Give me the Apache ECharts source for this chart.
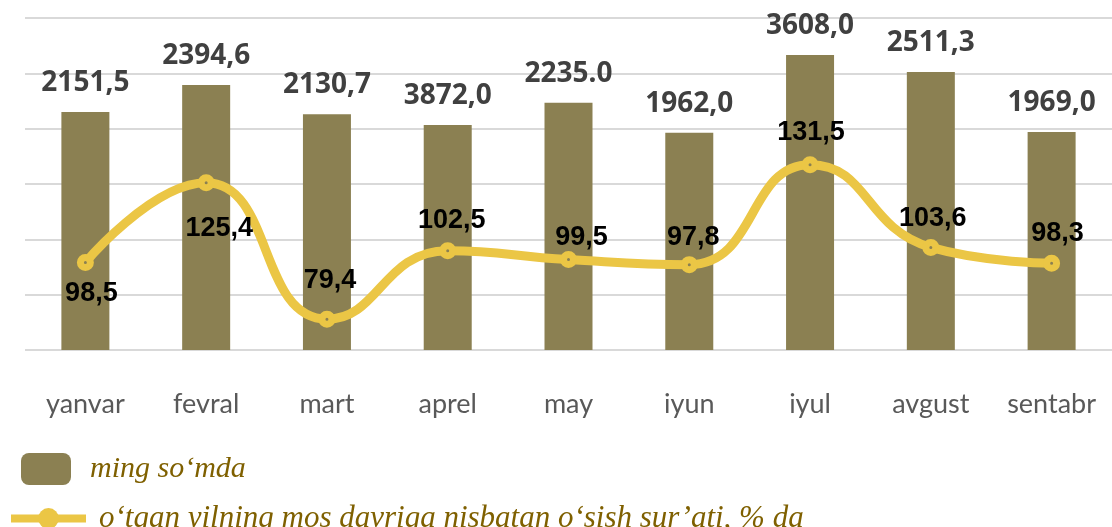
<!DOCTYPE html>
<html>
<head>
<meta charset="utf-8">
<script src="https://cdn.jsdelivr.net/npm/echarts@6/dist/echarts.min.js"></script>
<style>
  html, body { margin: 0; padding: 0; background: #fff; }
  #chart { width: 1112px; height: 527px; }
</style>
</head>
<body>
<div id="chart"></div>
<script>
var months = ['yanvar', 'fevral', 'mart', 'aprel', 'may', 'iyun', 'iyul', 'avgust', 'sentabr'];
// bar heights as drawn in the picture
var sumValues = [2151.5, 2394.6, 2130.7, 2033, 2235.0, 1962.0, 2665, 2511.3, 1969.0];
// labels as printed above the bars
var sumLabels = ['2151,5', '2394,6', '2130,7', '3872,0', '2235.0', '1962,0', '3608,0', '2511,3', '1969,0'];
var growthValues = [98.5, 125.4, 79.4, 102.5, 99.5, 97.8, 131.5, 103.6, 98.3];
var growthLabels = ['98,5', '125,4', '79,4', '102,5', '99,5', '97,8', '131,5', '103,6', '98,3'];

var barName = 'ming so\u2018mda';
var lineName = 'o\u2018tgan yilning mos davriga nisbatan o\u2018sish sur\u2019ati, % da';

var barColor = '#8B8052';
var lineColor = '#EBC645';

// where each percentage label sits relative to its point
var lineLabelShift = [[6, 31], [13, 46], [3, -39], [4, -30], [13, -22], [4, -27], [1, -32], [2, -29], [6, -30]];

var chart = echarts.init(document.getElementById('chart'));

var legendText = { fontFamily: 'Liberation Serif', fontStyle: 'italic', fontSize: 30, color: '#7F6000' };

var option = {
    animation: false,
    grid: { left: 25, top: 18, width: 1095, bottom: 177 },
    legend: [
        {
            data: [barName],
            left: 21, top: 453, padding: 0,
            itemWidth: 50, itemHeight: 32,
            icon: 'roundRect',
            textStyle: Object.assign({ padding: [0, 0, 0, 14] }, legendText)
        },
        {
            data: [{
                name: lineName,
                itemStyle: { color: lineColor, borderWidth: 0 },
                lineStyle: { width: 8 }
            }],
            left: 7, top: 503, padding: 0,
            itemWidth: 75, itemHeight: 26,
            textStyle: Object.assign({ padding: [0, 0, 0, 8] }, legendText, { fontSize: 31 })
        }
    ],
    xAxis: {
        type: 'category',
        data: months,
        axisLine: { show: false },
        axisTick: { show: false },
        axisLabel: { margin: 41, fontFamily: 'Lato', fontSize: 27, color: '#595959' }
    },
    yAxis: [
        {
            type: 'value', min: 0, max: 3000, interval: 500,
            axisLabel: { show: false },
            axisLine: { show: false },
            axisTick: { show: false },
            splitLine: { lineStyle: { color: '#D9D9D9', width: 2 } }
        },
        {
            type: 'value', min: 69, max: 181,
            show: false,
            splitLine: { show: false }
        }
    ],
    series: [
        {
            name: barName,
            type: 'bar',
            barWidth: 48,
            data: sumValues,
            itemStyle: { color: barColor },
            label: {
                show: true,
                position: 'top',
                distance: 15,
                fontFamily: 'Noto Sans',
                fontWeight: 'bold',
                fontSize: 28,
                color: '#404040',
                formatter: function (p) { return sumLabels[p.dataIndex]; }
            }
        },
        {
            name: lineName,
            type: 'line',
            yAxisIndex: 1,
            smooth: 0.5,
            symbol: 'circle',
            symbolSize: 10,
            lineStyle: { color: lineColor, width: 9 },
            itemStyle: { color: '#8B8052', borderColor: lineColor, borderWidth: 7 },
            data: growthValues.map(function (v, i) {
                return {
                    value: v,
                    label: { offset: lineLabelShift[i] }
                };
            }),
            label: {
                show: true,
                position: 'inside',
                fontFamily: 'Liberation Sans',
                fontWeight: 'bold',
                fontSize: 27,
                color: '#000',
                formatter: function (p) { return growthLabels[p.dataIndex]; }
            }
        }
    ]
};
chart.setOption(option);
</script>
</body>
</html>
